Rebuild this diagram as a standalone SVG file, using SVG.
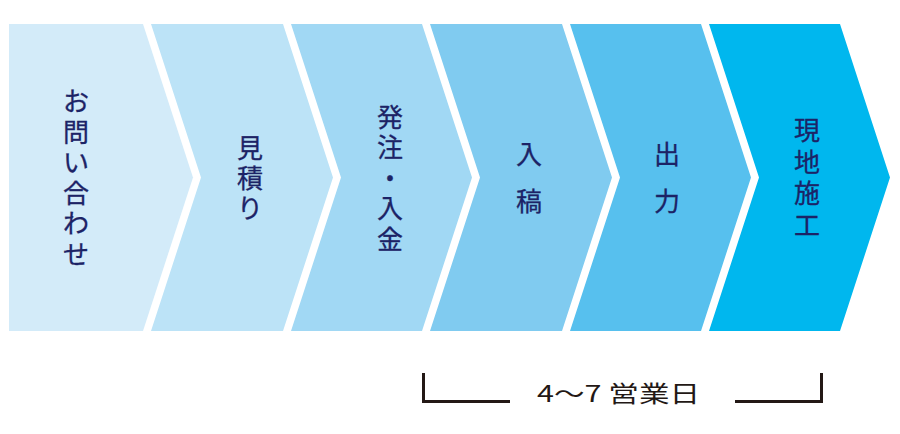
<svg xmlns="http://www.w3.org/2000/svg" width="900" height="434" viewBox="0 0 900 434">
<style>
.lbl{font-family:"Noto Sans CJK JP","Noto Sans",sans-serif;font-size:26px;fill:#1c2366;stroke:#1c2366;stroke-width:0.3;text-anchor:middle}
.br{fill:none;stroke:#231815;stroke-width:3}
.note{font-family:"Noto Sans CJK JP","Noto Sans",sans-serif;font-size:23px;fill:#231815}
</style>
<rect width="900" height="434" fill="#ffffff"/>
<g id="step1">
<path d="M9,24 H143 L193,177.5 L143,331 H9 Z" fill="#d3ebf9"/>
<text class="lbl"><tspan x="76" y="111">お</tspan><tspan x="76" y="141.6">問</tspan><tspan x="76" y="172.2">い</tspan><tspan x="76" y="202.8">合</tspan><tspan x="76" y="233.4">わ</tspan><tspan x="76" y="264">せ</tspan></text>
</g>
<g id="step2">
<path d="M151,24 H283 L333,177.5 L283,331 H151 L201,177.5 Z" fill="#bce3f7"/>
<text class="lbl"><tspan x="250" y="157.5">見</tspan><tspan x="250" y="187.5">積</tspan><tspan x="250" y="217.5">り</tspan></text>
</g>
<g id="step3">
<path d="M291,24 H422 L472,177.5 L422,331 H291 L341,177.5 Z" fill="#a1d8f4"/>
<text class="lbl"><tspan x="390" y="126.5">発</tspan><tspan x="390" y="157">注</tspan><tspan x="390" y="187.5">・</tspan><tspan x="390" y="218">入</tspan><tspan x="390" y="248.5">金</tspan></text>
</g>
<g id="step4">
<path d="M430,24 H562 L612,177.5 L562,331 H430 L480,177.5 Z" fill="#80cbf0"/>
<text class="lbl"><tspan x="529" y="164">入</tspan><tspan x="529" y="211">稿</tspan></text>
</g>
<g id="step5">
<path d="M570,24 H701 L751,177.5 L701,331 H570 L620,177.5 Z" fill="#57c0ee"/>
<text class="lbl"><tspan x="667" y="164">出</tspan><tspan x="667" y="211">力</tspan></text>
</g>
<g id="step6">
<path d="M709,24 H840 L890,177.5 L840,331 H709 L759,177.5 Z" fill="#00b7ee"/>
<text class="lbl"><tspan x="807" y="140">現</tspan><tspan x="807" y="171.7">地</tspan><tspan x="807" y="203.3">施</tspan><tspan x="807" y="235">工</tspan></text>
</g>
<g id="connectors">
<path class="br" d="M423.5,373 V401.5 H510"/>
<path class="br" d="M735,401.5 H821.5 V373"/>
</g>
<g id="duration">
<text class="note" x="537" y="402" textLength="163" lengthAdjust="spacingAndGlyphs">4〜7 営業日</text>
</g>
</svg>
